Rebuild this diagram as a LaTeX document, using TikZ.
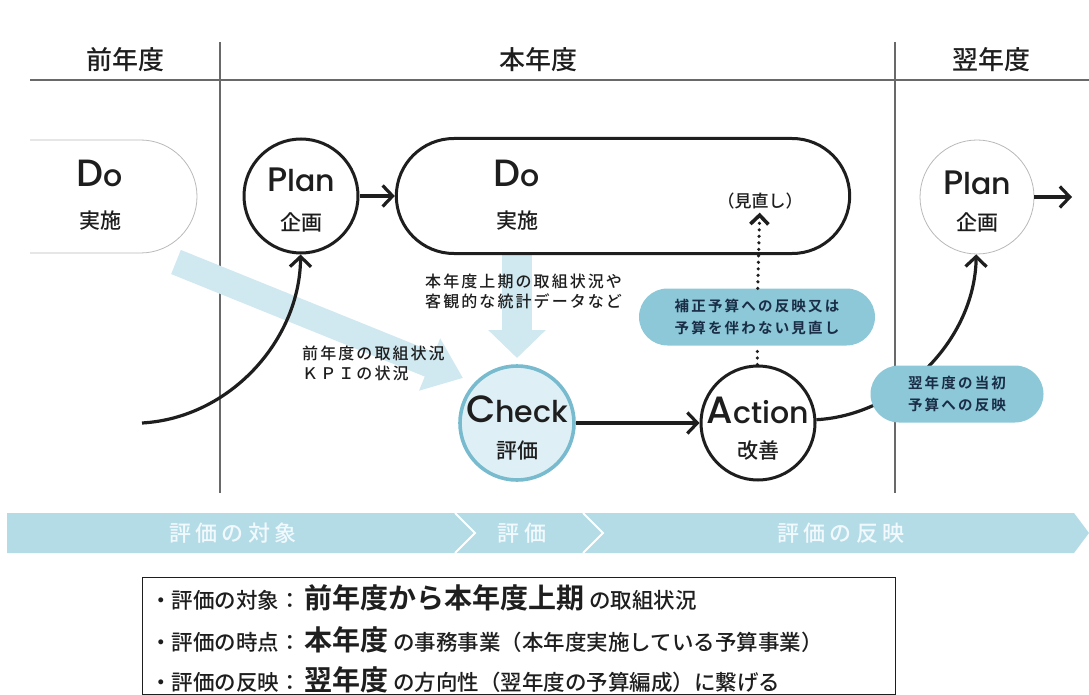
\documentclass[tikz,border=0pt]{standalone}
\usepackage{fontspec}
\setmainfont{Noto Sans CJK JP Medium}[BoldFont={Noto Sans CJK JP Bold}]
\newfontfamily\latinfont{Poppins Medium}
\usetikzlibrary{arrows.meta,shapes.misc}

\definecolor{linegray}{RGB}{105,105,105}
\definecolor{textgray}{RGB}{30,30,30}
\definecolor{pillblue}{RGB}{141,200,216}
\definecolor{pilltext}{RGB}{25,45,70}
\definecolor{checkfill}{RGB}{222,240,246}
\definecolor{checkline}{RGB}{120,186,206}
\definecolor{flowblue}{RGB}{208,232,240}
\definecolor{bandblue}{RGB}{180,220,231}
\definecolor{bandtext}{RGB}{242,249,252}

\tikzset{
  pdca/.style={circle, draw=textgray, line width=3pt, fill=white, minimum size=114pt, inner sep=0pt},
  title/.style={anchor=base, inner sep=0pt, text=textgray, font=\latinfont\fontsize{30}{30}\selectfont},
  sub/.style={anchor=base, inner sep=0pt, text=textgray, font=\fontsize{21}{21}\selectfont},
  head/.style={text=textgray, font=\fontsize{26}{26}\selectfont},
  flowline/.style={draw=textgray, line width=3.2pt, -{Straight Barb[length=10pt,width=21pt]}},
  dotline/.style={draw=textgray, line width=3.6pt, line cap=round, dash pattern=on 0pt off 6.5pt},
  pill/.style={rounded rectangle, fill=pillblue, minimum height=57pt, inner sep=2pt, align=center,
    text=pilltext, font=\bfseries\fontsize{14.5}{22}\selectfont\addfontfeature{LetterSpace=15}},
  note/.style={anchor=north west, inner sep=0pt, align=left, text=textgray,
    font=\fontsize{16}{19.5}\selectfont\addfontfeature{LetterSpace=13}},
  bandlabel/.style={text=bandtext, font=\fontsize{22}{22}\selectfont\addfontfeature{LetterSpace=20}},
  listrow/.style={anchor=base west, inner sep=0pt, text=textgray, font=\fontsize{21.5}{21.5}\selectfont}
}

\begin{document}
\begin{tikzpicture}[x=1pt,y=-1pt]
\useasboundingbox (0,0) rectangle (1089,695);

% year header
\draw[linegray, line width=1.8pt] (30,80) -- (1089,80);
\foreach \x in {220,895}
  \draw[linegray, line width=1.4pt] (\x,42) -- (\x,493);
\foreach \x/\yr in {125/前年度,538/本年度,991/翌年度}
  \node[head] at (\x,60) {\yr};

% light blue inputs to Check
\draw[flowblue, line width=26pt, -{Triangle[length=36pt,width=54pt]}] (176,262) -- (463,378);
\draw[flowblue, line width=30pt, -{Triangle[length=28pt,width=56pt]}] (517,253) -- (517,358);

% last year
\draw[gray!55, line width=0.8pt, rounded corners=56.5pt] (30,140) -- (197,140) -- (197,253) -- (30,253);
\node[title] at (100,187) {{\fontsize{38}{38}\selectfont D}o};
\node[sub] at (100,229) {実施};

% this year
\node[pdca] (plan) at (301,196) {};
\node[title] at (301,192) {{\fontsize{34}{34}\selectfont P}lan};
\node[sub] at (301,230) {企画};

\node[rounded rectangle, draw=textgray, line width=3pt, fill=white,
  minimum width=460pt, minimum height=115pt] (doyear) at (623,196) {};
\node[title] at (517,187) {{\fontsize{38}{38}\selectfont D}o};
\node[sub] at (517,229) {実施};
\node[text=textgray, font=\fontsize{17}{17}\selectfont] (review) at (760,201) {（見直し）};

\node[pdca, draw=checkline, fill=checkfill, line width=3.6pt] (check) at (517,423) {};
\node[title] at (517,422) {{\fontsize{38}{38}\selectfont C}heck};
\node[sub] at (517,458) {評価};

\node[pdca] (action) at (758,423) {};
\node[title] at (758,423) {{\fontsize{38}{38}\selectfont A}ction};
\node[sub] at (758,458) {改善};

% next year
\node[pdca, draw=gray!55, line width=0.8pt] (plannext) at (977,197) {};
\node[title] at (977,194) {{\fontsize{34}{34}\selectfont P}lan};
\node[sub] at (977,230) {企画};

\node[note] at (425,274) {本年度上期の取組状況や\\客観的な統計データなど};
\node[note] at (302,346) {前年度の取組状況\\ＫＰＩの状況};

% cycle
\coordinate (lastyear) at (142,423);
\coordinate (nextyear) at (1072,197);
\draw[flowline] (lastyear) .. controls (230,418) and (300,340) .. (plan);
\draw[flowline] (plan) -- (doyear);
\draw[flowline] (check) -- (action);
\draw[flowline] (action) .. controls (900,415) and (975,340) .. (plannext);
\draw[flowline] (plannext) -- (nextyear);

\node[pill, minimum width=240pt] (revise) at (757,317) {補正予算への反映又は\\予算を伴わない見直し};
\node[pill, minimum width=177pt] (reflect) at (957,394) {翌年度の当初\\予算への反映};
\draw[dotline] (action) -- (revise);
\draw[dotline, -{Straight Barb[length=9pt,width=18pt]}] (revise) -- (review);

% stage band
\fill[bandblue] (7,513) -- (1074,513) -- (1089,533) -- (1074,553) -- (7,553) -- cycle;
\foreach \x in {455,583}
  \draw[white, line width=2pt] (\x,513) -- ({\x+20},533) -- (\x,553);
\foreach \x/\stage in {233/評価の対象,522/評価,841/評価の反映}
  \node[bandlabel] at (\x,533) {\stage};

% summary
\draw[textgray, line width=0.9pt] (142,577) rectangle (895,694);
\foreach \y/\a/\b/\c in {608/評価の対象/前年度から本年度上期/の取組状況,
    650/評価の時点/本年度/の事務事業（本年度実施している予算事業）,
    690/評価の反映/翌年度/の方向性（翌年度の予算編成）に繋げる}
  \node[listrow] at (150,\y) {・\a：\,{\bfseries\fontsize{28}{28}\selectfont\b} \c};
\end{tikzpicture}
\end{document}
